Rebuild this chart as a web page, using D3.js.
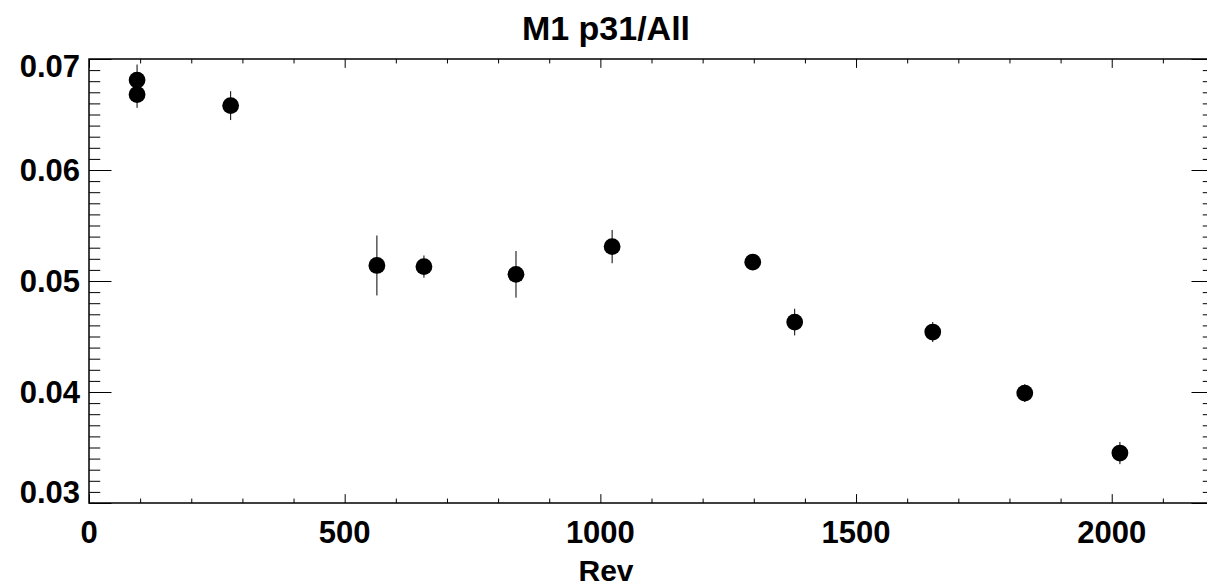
<!DOCTYPE html>
<html><head><meta charset="utf-8">
<script src="https://cdn.jsdelivr.net/npm/d3@7"></script>
<style>html,body{margin:0;padding:0;background:#fff;overflow:hidden}</style>
</head><body>
<svg id="c" width="1207" height="586"></svg>
<script>
const title = "M1 p31/All";
const xLabel = "Rev";
const revs   = [94, 94, 277, 563, 655, 835, 1023, 1298, 1380, 1650, 1830, 2016];
const ratios = [0.0681, 0.0668, 0.0658, 0.0514, 0.0513, 0.0506, 0.0531, 0.0517, 0.0463, 0.0454, 0.0399, 0.0345];
const errs   = [0.0014, 0.0012, 0.0013, 0.0027, 0.0010, 0.0021, 0.0015, 0.0005, 0.0012, 0.0009, 0.0008, 0.0010];
const xTicks = [0, 500, 1000, 1500, 2000];
const yTicks = [0.03, 0.04, 0.05, 0.06, 0.07];
const xDomain = [0, 2200];
const yDomain = [0.03, 0.07];

const L = 89, T = 59, R = 1214, B = 503;
const svg = d3.select("#c");
const x = d3.scaleLinear().domain(xDomain).range([L, R]);
const y = d3.scaleLinear().domain(yDomain).range([B, T]);
const font = "'Liberation Sans', Arial, Helvetica, sans-serif";

const xMinor = d3.range(0, 2201, 100).filter(v => v % 500 !== 0);
const yMinor = d3.range(30, 71, 1).map(v => v / 1000).filter((v, i) => i % 10 !== 0);

const xl = (B - T) * 0.02, yl = (R - L) * 0.02;
function ticks(axisFn, pos, vals, len) {
  svg.append("g").attr("transform", pos)
    .call(axisFn.tickValues(vals).tickSize(-len).tickFormat(""))
    .call(g => g.select(".domain").remove());
}
ticks(d3.axisBottom(x), `translate(0,${B})`, xTicks, xl);
ticks(d3.axisBottom(x), `translate(0,${B})`, xMinor, xl / 2);
ticks(d3.axisTop(x), `translate(0,${T})`, xTicks, xl);
ticks(d3.axisTop(x), `translate(0,${T})`, xMinor, xl / 2);
ticks(d3.axisLeft(y), `translate(${L},0)`, yTicks, yl);
ticks(d3.axisLeft(y), `translate(${L},0)`, yMinor, yl / 2);
ticks(d3.axisRight(y), `translate(${R},0)`, yTicks, yl);
ticks(d3.axisRight(y), `translate(${R},0)`, yMinor, yl / 2);
svg.selectAll(".tick line").attr("stroke", "#000").attr("stroke-width", 1);

svg.append("rect").attr("x", L).attr("y", T).attr("width", R - L).attr("height", B - T)
  .attr("fill", "none").attr("stroke", "#000").attr("stroke-width", 1.5);

// tick labels
svg.append("g").selectAll("text").data(xTicks).join("text")
  .attr("x", d => x(d)).attr("y", 543)
  .attr("text-anchor", "middle").attr("font-family", font).attr("font-weight", "bold")
  .attr("font-size", 31).text(d => d);
const cap = 22;
svg.append("g").selectAll("text").data(yTicks).join("text")
  .attr("x", L - 9)
  .attr("y", d => Math.min(B, Math.max(T + 18, y(d) + cap / 2)))
  .attr("text-anchor", "end").attr("font-family", font).attr("font-weight", "bold")
  .attr("font-size", 31).text(d => d3.format(".2f")(d));

// titles
const cx = 606;
svg.append("text").attr("x", cx).attr("y", 40).attr("text-anchor", "middle")
  .attr("font-family", font).attr("font-weight", "bold").attr("font-size", 34).text(title);
svg.append("text").attr("x", cx).attr("y", 581).attr("text-anchor", "middle")
  .attr("font-family", font).attr("font-weight", "bold").attr("font-size", 30).text(xLabel);

// data
const data = revs.map((r, i) => ({ r, v: ratios[i], e: errs[i] }));
svg.append("g").selectAll("line").data(data).join("line")
  .attr("x1", d => x(d.r)).attr("x2", d => x(d.r))
  .attr("y1", d => y(d.v - d.e)).attr("y2", d => y(d.v + d.e))
  .attr("stroke", "#000").attr("stroke-width", 1);
svg.append("g").selectAll("circle").data(data).join("circle")
  .attr("cx", d => x(d.r)).attr("cy", d => y(d.v)).attr("r", 8.4).attr("fill", "#000");
</script>
</body></html>
